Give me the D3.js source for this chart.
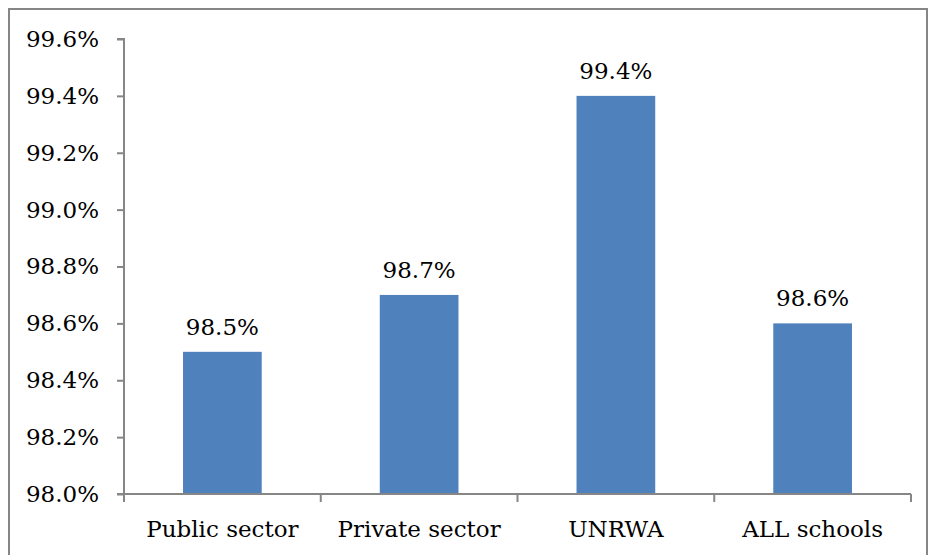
<!DOCTYPE html>
<html>
<head>
<meta charset="utf-8">
<script src="https://cdn.jsdelivr.net/npm/d3@7"></script>
<style>
  body { margin: 0; background: #fff; }
  text { font-family: "DejaVu Serif", serif; font-size: 23px; fill: #000; }
</style>
</head>
<body>
<svg id="chart"></svg>
<script>
// --------------------
// Data
// --------------------
const categories = ["Public sector", "Private sector", "UNRWA", "ALL schools"];
const rates = [98.5, 98.7, 99.4, 98.6];
const yTicks = [98.0, 98.2, 98.4, 98.6, 98.8, 99.0, 99.2, 99.4, 99.6];

// --------------------
// Basic setup
// --------------------
const width = 928;
const height = 555;
const margin = { top: 39, right: 17, bottom: 61, left: 124 };

const svg = d3.select("#chart")
  .attr("width", width)
  .attr("height", height);

// outer frame (bottom runs off the picture)
svg.append("rect")
  .attr("x", 9).attr("y", 9)
  .attr("width", width - 10).attr("height", height + 20)
  .attr("fill", "none")
  .attr("stroke", "#868686")
  .attr("stroke-width", 2);

const x = d3.scaleBand()
  .domain(categories)
  .range([margin.left, width - margin.right])
  .paddingInner(0.6)
  .paddingOuter(0.3);

const y = d3.scaleLinear()
  .domain([98.0, 99.6])
  .range([height - margin.bottom, margin.top]);

// --------------------
// Bars
// --------------------
svg.selectAll("rect.bar")
  .data(rates)
  .join("rect")
    .attr("class", "bar")
    .attr("x", (d, i) => x(categories[i]))
    .attr("y", d => y(d))
    .attr("width", x.bandwidth())
    .attr("height", d => y(98.0) - y(d))
    .attr("fill", "#4F81BD");

// value labels
svg.selectAll("text.val")
  .data(rates)
  .join("text")
    .attr("class", "val")
    .attr("x", (d, i) => x(categories[i]) + x.bandwidth() / 2)
    .attr("y", d => y(d) - 17)
    .attr("text-anchor", "middle")
    .text(d => d.toFixed(1) + "%");

// --------------------
// Axes
// --------------------
const yAxis = svg.append("g")
  .attr("transform", `translate(${margin.left},0)`)
  .call(d3.axisLeft(y)
    .tickValues(yTicks)
    .tickSize(7)
    .tickPadding(18)
    .tickFormat(d => d.toFixed(1) + "%"));

yAxis.select(".domain").attr("stroke", "#868686").attr("stroke-width", 2)
  .attr("d", `M-7,${y(99.6)}H0V${y(98.0)}`);
yAxis.selectAll(".tick line").attr("stroke", "#868686").attr("stroke-width", 2);
yAxis.selectAll(".tick text")
  .style("font-family", "DejaVu Serif, serif")
  .style("font-size", "23px")
  .attr("fill", "#000");

// x axis: line with ticks on category boundaries
const x0 = margin.left - 7;
const x1 = width - margin.right;
const xg = svg.append("g");
xg.append("line")
  .attr("x1", x0).attr("x2", x1)
  .attr("y1", y(98.0)).attr("y2", y(98.0))
  .attr("stroke", "#868686").attr("stroke-width", 2);

const step = x.step();
const boundaries = d3.range(categories.length + 1).map(i => margin.left + i * step);
xg.selectAll("line.tick")
  .data(boundaries)
  .join("line")
    .attr("class", "tick")
    .attr("x1", d => d).attr("x2", d => d)
    .attr("y1", y(98.0)).attr("y2", y(98.0) + 8)
    .attr("stroke", "#868686").attr("stroke-width", 2);

xg.selectAll("text.cat")
  .data(categories)
  .join("text")
    .attr("class", "cat")
    .attr("x", d => x(d) + x.bandwidth() / 2)
    .attr("y", y(98.0) + 43)
    .attr("text-anchor", "middle")
    .text(d => d);
</script>
</body>
</html>
